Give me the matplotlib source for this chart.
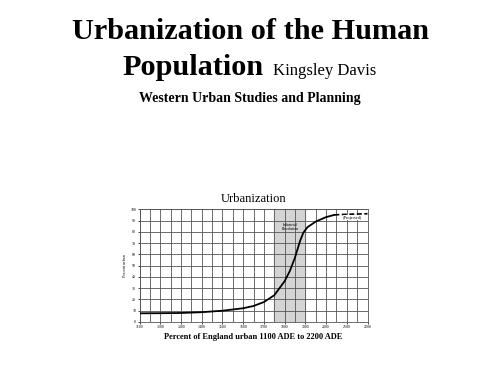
import numpy as np
import matplotlib.pyplot as plt

# data
years = [1100, 1200, 1300, 1400, 1500, 1600, 1650, 1700, 1750, 1800, 1825,
         1850, 1875, 1890, 1910, 1950, 2000, 2040]
urban = [7.5, 7.6, 7.8, 8.5, 9.8, 12.0, 14.0, 17.5, 23.5, 36.0, 45.0,
         57.0, 72.0, 79.0, 84.0, 89.0, 93.0, 95.0]
proj_years = [2040, 2100, 2200]
proj_urban = [95.0, 95.5, 96.0]
ind_rev = (1750, 1900)

xticks = list(range(1100, 2201, 100))
yticks = list(range(0, 101, 10))

serif = ["Liberation Serif", "DejaVu Serif"]

fig = plt.figure(figsize=(5, 3.75), dpi=100)
fig.patch.set_facecolor("white")

# header text
fig.text(0.5, 0.895, "Urbanization of the Human", ha="center", va="baseline",
         family=serif, weight="bold", fontsize=21.8)
fig.text(0.245, 0.80, "Population", ha="left", va="baseline",
         family=serif, weight="bold", fontsize=21.8)
fig.text(0.546, 0.80, "Kingsley Davis", ha="left", va="baseline",
         family=serif, fontsize=12)
fig.text(0.5, 0.729, "Western Urban Studies and Planning", ha="center",
         va="baseline", family=serif, weight="bold", fontsize=10)

ax = fig.add_axes([0.279, 0.142, 0.456, 0.300])
ax.axvspan(*ind_rev, color="#d4d4d4", zorder=0)
ax.set_xlim(1100, 2200)
ax.set_ylim(0, 100)
ax.set_xticks(xticks)
ax.set_yticks(yticks)
ax.set_xticks(list(range(1150, 2200, 100)), minor=True)
ax.grid(True, which="major", color="#555555", linewidth=0.6, zorder=1)
ax.grid(True, which="minor", axis="x", color="#555555", linewidth=0.6, zorder=1)
ax.tick_params(which="minor", length=0)
ax.tick_params(which="major", length=1.5, width=0.5, labelsize=2.8, pad=1)
for lab in ax.get_xticklabels() + ax.get_yticklabels():
    lab.set_family(serif)
for s in ax.spines.values():
    s.set_linewidth(0.6)
    s.set_color("#555555")

ax.plot(years, urban, color="black", linewidth=1.3, zorder=3)
ax.plot(proj_years, proj_urban, color="black", linewidth=1.2,
        linestyle=(0, (3, 1.5)), zorder=3)

ax.text(1828, 88, "Industrial\nRevolution", ha="center", va="top",
        fontsize=2.8, family=serif, linespacing=1.2)
ax.text(2128, 94.2, "(Projected)", ha="center", va="top",
        fontsize=3.2, family=serif, zorder=4,
        bbox=dict(facecolor="white", edgecolor="none", pad=0.3))

ax.set_title("Urbanization", family=serif, fontsize=9, pad=5)
ax.set_xlabel("Percent of England urban 1100 ADE to 2200 ADE", family=serif,
              weight="bold", fontsize=6, labelpad=3)
ax.set_ylabel("Percent urban", family=serif, fontsize=3, labelpad=2)

fig.savefig("out.png", dpi=100)
